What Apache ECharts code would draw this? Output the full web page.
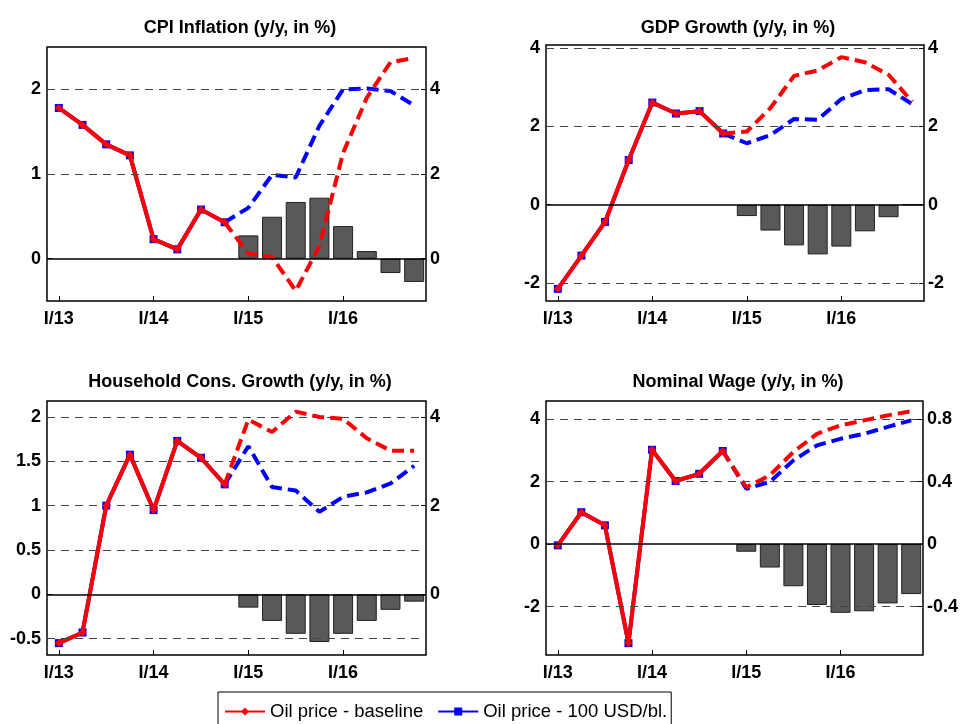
<!DOCTYPE html>
<html>
<head>
<meta charset="utf-8">
<script src="https://cdn.jsdelivr.net/npm/echarts@6/dist/echarts.min.js"></script>
<style>
  html, body { margin: 0; padding: 0; background: #fff; }
  #chart { width: 961px; height: 724px; }
</style>
</head>
<body>
<div id="chart"></div>
<script>
const quarters = ['I/13', 'II/13', 'III/13', 'IV/13', 'I/14', 'II/14', 'III/14', 'IV/14',
  'I/15', 'II/15', 'III/15', 'IV/15', 'I/16', 'II/16', 'III/16', 'IV/16']

// history I/13 - IV/14 (same for both scenarios)
// forecast I/15 - IV/16: base = baseline, high = 100 USD/bl., diff = bars (right axis)
const cpiHist = [1.78, 1.58, 1.35, 1.22, 0.23, 0.11, 0.58, 0.43]
const cpiBase = [0.06, 0.02, -0.38, 0.15, 1.25, 1.9, 2.32, 2.37]
const cpiHigh = [0.6, 0.99, 0.96, 1.57, 2.0, 2.01, 1.98, 1.81]
const cpiDiff = [0.55, 0.99, 1.34, 1.44, 0.77, 0.18, -0.34, -0.55]

const gdpHist = [-2.15, -1.3, -0.44, 1.14, 2.61, 2.33, 2.39, 1.82]
const gdpBase = [1.87, 2.47, 3.29, 3.43, 3.77, 3.64, 3.32, 2.63]
const gdpHigh = [1.57, 1.78, 2.19, 2.17, 2.7, 2.93, 2.95, 2.57]
const gdpDiff = [-0.29, -0.66, -1.04, -1.27, -1.07, -0.68, -0.32, 0]

const hhHist = [-0.55, -0.43, 1.0, 1.575, 0.95, 1.73, 1.54, 1.24]
const hhBase = [1.97, 1.83, 2.06, 2.0, 1.98, 1.76, 1.62, 1.62]
const hhHigh = [1.67, 1.21, 1.17, 0.93, 1.1, 1.15, 1.25, 1.45]
const hhDiff = [-0.3, -0.6, -0.89, -1.075, -0.89, -0.6, -0.35, -0.165]

const wageHist = [-0.04, 1.02, 0.6, -3.17, 3.02, 2.02, 2.25, 2.98]
const wageBase = [1.82, 2.2, 2.95, 3.53, 3.8, 3.96, 4.12, 4.25]
const wageHigh = [1.77, 1.99, 2.68, 3.16, 3.37, 3.53, 3.75, 3.96]
const wageDiff = [-0.049, -0.15, -0.27, -0.39, -0.44, -0.43, -0.38, -0.32]

// tick labels
const cpiTicksL = [0, 1, 2]
const cpiTicksR = [0, 2, 4]
const gdpTicksL = [-2, 0, 2, 4]
const gdpTicksR = [-2, 0, 2, 4]
const hhTicksL = [-0.5, 0, 0.5, 1, 1.5, 2]
const hhTicksR = [0, 2, 4]
const wageTicksL = [-2, 0, 2, 4]
const wageTicksR = [-0.4, 0, 0.4, 0.8]

const panels = [
  { title: 'CPI Inflation (y/y, in %)', hist: cpiHist, base: cpiBase, high: cpiHigh, diff: cpiDiff,
    left: [-0.5, 2.5], right: [-1, 5], ticksL: cpiTicksL, ticksR: cpiTicksR },
  { title: 'GDP Growth (y/y, in %)', hist: gdpHist, base: gdpBase, high: gdpHigh, diff: gdpDiff,
    left: [-2.46, 4.08], right: [-2.46, 4.08], ticksL: gdpTicksL, ticksR: gdpTicksR },
  { title: 'Household Cons. Growth (y/y, in %)', hist: hhHist, base: hhBase, high: hhHigh, diff: hhDiff,
    left: [-0.684, 2.18], right: [-1.368, 4.36], ticksL: hhTicksL, ticksR: hhTicksR },
  { title: 'Nominal Wage (y/y, in %)', hist: wageHist, base: wageBase, high: wageHigh, diff: wageDiff,
    left: [-3.55, 4.58], right: [-0.71, 0.916], ticksL: wageTicksL, ticksR: wageTicksR }
]

const boxes = [
  { left: 47, top: 47, width: 379, height: 254, cx: 235, ty: 14 },
  { left: 546, top: 45, width: 378, height: 256, cx: 733, ty: 14 },
  { left: 47, top: 401, width: 379, height: 254, cx: 235, ty: 368 },
  { left: 546, top: 401, width: 378, height: 254, cx: 733, ty: 368 }
]

const FONT = 'Liberation Sans, Arial, sans-serif'
const nHist = 8

function histData (h) {
  return quarters.map((q, i) => i < nHist ? h[i] : null)
}
function fcData (h, f) {
  return quarters.map((q, i) => i === nHist - 1 ? h[i] : (i >= nHist ? f[i - nHist] : null))
}
function barData (d) {
  return quarters.map((q, i) => i >= nHist ? d[i - nHist] : null)
}

const option = {
  animation: false,
  backgroundColor: '#fff',
  title: [],
  grid: [],
  xAxis: [],
  yAxis: [],
  series: [],
  legend: {
    left: 218,
    top: 692,
    data: ['Oil price - baseline', 'Oil price - 100 USD/bl.'],
    itemWidth: 40,
    itemHeight: 10,
    itemGap: 14,
    padding: [10, 4, 12, 6],
    borderColor: '#000',
    borderWidth: 1,
    textStyle: { fontFamily: FONT, fontSize: 18.5, color: '#000' }
  }
}

panels.forEach((p, g) => {
  const b = boxes[g]
  option.title.push({
    text: p.title,
    left: b.cx,
    top: b.ty,
    textAlign: 'center',
    textStyle: { fontFamily: FONT, fontSize: 18, fontWeight: 'bold', color: '#000' }
  })
  option.grid.push({
    left: b.left, top: b.top, width: b.width, height: b.height,
    show: true, borderColor: '#000', borderWidth: 1.5, backgroundColor: 'transparent'
  })
  option.xAxis.push({
    type: 'category',
    gridIndex: g,
    data: quarters,
    boundaryGap: true,
    axisLine: { show: false, onZero: false },
    axisTick: { show: true, inside: true, interval: 3, alignWithLabel: true, length: 5, lineStyle: { color: '#000' } },
    axisLabel: { interval: 3, margin: 9, fontFamily: FONT, fontSize: 18, fontWeight: 'bold', color: '#000' },
    splitLine: { show: false }
  })
  const yCommon = {
    type: 'value',
    gridIndex: g,
    splitLine: { show: false },
    axisLine: { show: false }
  }
  option.yAxis.push(Object.assign({}, yCommon, {
    position: 'left',
    min: p.left[0], max: p.left[1],
    axisTick: { show: true, inside: true, length: 5, customValues: p.ticksL, lineStyle: { color: '#000' } },
    axisLabel: { customValues: p.ticksL, margin: 6, fontFamily: FONT, fontSize: 18, fontWeight: 'bold', color: '#000' }
  }))
  option.yAxis.push(Object.assign({}, yCommon, {
    position: 'right',
    min: p.right[0], max: p.right[1],
    axisTick: { show: true, inside: true, length: 5, customValues: p.ticksR, lineStyle: { color: '#000' } },
    axisLabel: { customValues: p.ticksR, margin: 4, fontFamily: FONT, fontSize: 18, fontWeight: 'bold', color: '#000' }
  }))

  const yl = 2 * g
  const yr = 2 * g + 1

  // grid lines
  option.series.push({
    type: 'line',
    name: 'grid' + g,
    xAxisIndex: g,
    yAxisIndex: yl,
    data: [],
    z: 1,
    silent: true,
    markLine: {
      silent: true,
      symbol: ['none', 'none'],
      label: { show: false },
      data: p.ticksL.map(v => ({
        yAxis: v,
        lineStyle: v === 0
          ? { color: '#000', width: 1.5, type: 'solid' }
          : { color: '#444', width: 1, type: [8, 6] }
      }))
    }
  })
  // difference bars
  option.series.push({
    type: 'bar',
    name: 'diff' + g,
    xAxisIndex: g,
    yAxisIndex: yr,
    data: barData(p.diff),
    barWidth: 20,
    z: 2,
    itemStyle: { color: '#595959', borderColor: '#222', borderWidth: 1 }
  })
  // 100 USD/bl. scenario
  option.series.push({
    type: 'line',
    name: 'Oil price - 100 USD/bl.',
    xAxisIndex: g,
    yAxisIndex: yl,
    data: histData(p.hist),
    z: 3,
    symbol: 'rect',
    symbolSize: 8,
    itemStyle: { color: '#0000ff' },
    lineStyle: { color: '#0000ff', width: 4 }
  })
  option.series.push({
    type: 'line',
    name: 'high forecast',
    xAxisIndex: g,
    yAxisIndex: yl,
    data: fcData(p.hist, p.high),
    z: 3,
    showSymbol: false,
    itemStyle: { color: '#0000ff' },
    lineStyle: { color: '#0000ff', width: 4, type: [12, 6] }
  })
  // baseline
  option.series.push({
    type: 'line',
    name: 'Oil price - baseline',
    xAxisIndex: g,
    yAxisIndex: yl,
    data: histData(p.hist),
    z: 4,
    symbol: 'diamond',
    symbolSize: 8,
    itemStyle: { color: '#ff0000' },
    lineStyle: { color: '#ff0000', width: 4 }
  })
  option.series.push({
    type: 'line',
    name: 'baseline forecast',
    xAxisIndex: g,
    yAxisIndex: yl,
    data: fcData(p.hist, p.base),
    z: 4,
    showSymbol: false,
    itemStyle: { color: '#ff0000' },
    lineStyle: { color: '#ff0000', width: 4, type: [12, 6] }
  })
})

const chart = echarts.init(document.getElementById('chart'))
chart.setOption(option)
</script>
</body>
</html>
